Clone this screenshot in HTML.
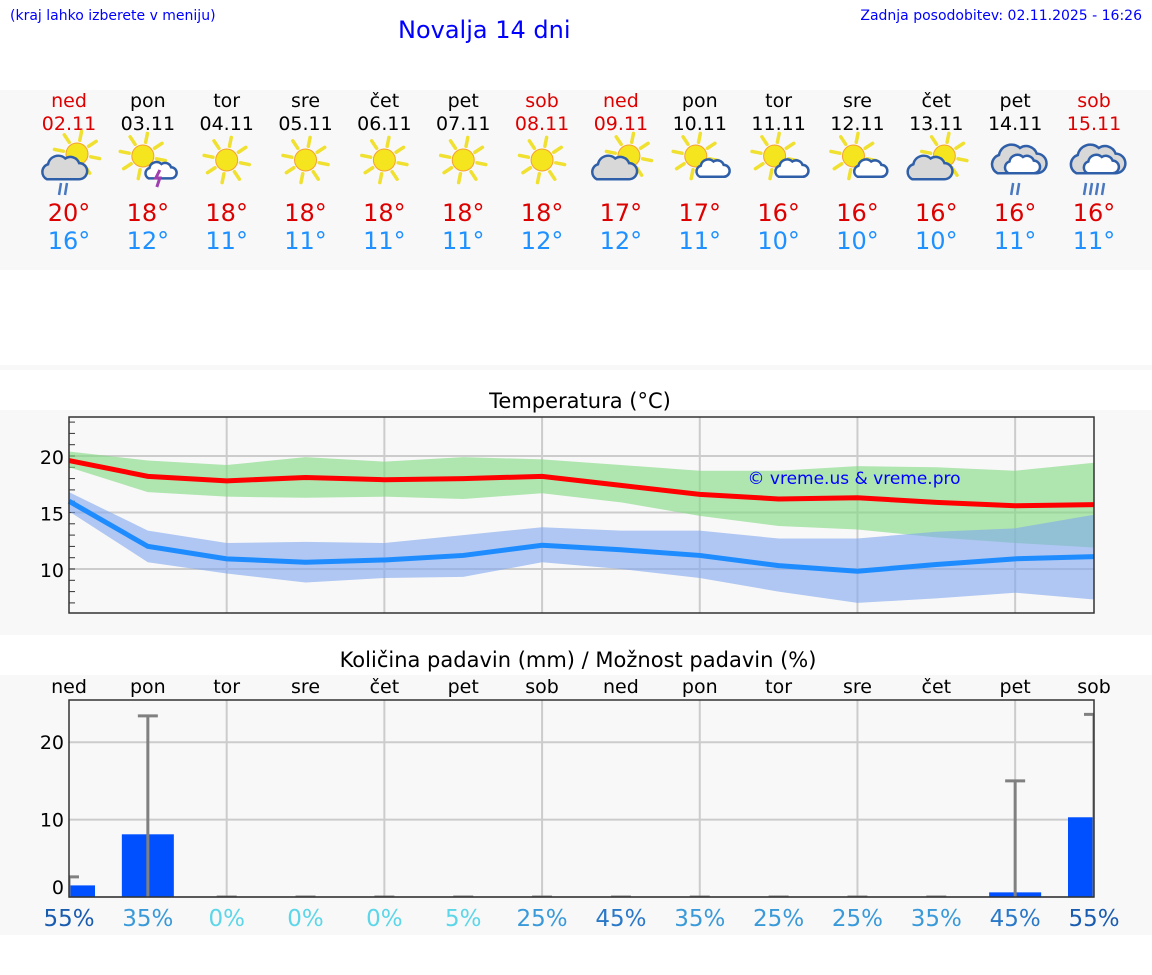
<!DOCTYPE html>
<html><head><meta charset="utf-8"><style>
body{margin:0;width:1152px;height:975px;background:#fff;font-family:"DejaVu Sans","Liberation Sans",sans-serif;overflow:hidden;position:relative}
.a{position:absolute}
</style></head><body>
<div class="a" style="left:10px;top:8px;font-size:14px;color:#00f">(kraj lahko izberete v meniju)</div>
<div class="a" style="left:398px;top:16px;font-size:24px;color:#00f">Novalja 14 dni</div>
<div class="a" style="right:10px;top:8px;font-size:14px;color:#00f">Zadnja posodobitev: 02.11.2025 - 16:26</div>
<div class="a" style="left:0;top:90px;width:1152px;height:180px;background:#f8f8f8"></div>
<div class="a" style="left:0;top:365px;width:1152px;height:5px;background:#f8f8f8"></div>
<div class="a" style="left:0;top:410px;width:1152px;height:225px;background:#f8f8f8"></div>
<div class="a" style="left:0;top:675px;width:1152px;height:260px;background:#f8f8f8"></div>
<svg id="s" class="a" style="left:0;top:0" width="1152" height="975"></svg>
<script>
const days=["ned","pon","tor","sre","čet","pet","sob","ned","pon","tor","sre","čet","pet","sob"];
const dates=["02.11","03.11","04.11","05.11","06.11","07.11","08.11","09.11","10.11","11.11","12.11","13.11","14.11","15.11"];
const weekend=[1,0,0,0,0,0,1,1,0,0,0,0,0,1];
const icons=["sun-cloud-rain","sun-storm","sun","sun","sun","sun","sun","cloud-sun","sun-small-cloud","sun-small-cloud","sun-small-cloud","cloud-sun","cloud-rain","cloud-rain-heavy"];
const tmaxLabel=[20,18,18,18,18,18,18,17,17,16,16,16,16,16];
const tminLabel=[16,12,11,11,11,11,12,12,11,10,10,10,11,11];
const tmax=[19.6,18.2,17.8,18.1,17.9,18.0,18.2,17.4,16.6,16.2,16.3,15.9,15.6,15.7];
const tmaxHi=[20.4,19.6,19.2,19.9,19.5,19.9,19.7,19.2,18.7,18.7,19.1,19.0,18.7,19.4];
const tmaxLo=[19.0,16.8,16.4,16.3,16.4,16.2,16.7,15.9,14.7,13.8,13.5,12.8,12.3,11.9];
const tmin=[16.0,12.0,10.9,10.6,10.8,11.2,12.1,11.7,11.2,10.3,9.8,10.4,10.9,11.1];
const tminHi=[16.8,13.4,12.3,12.4,12.3,13.0,13.7,13.4,13.4,12.7,12.7,13.3,13.6,14.8];
const tminLo=[15.1,10.6,9.6,8.8,9.2,9.3,10.6,10.0,9.2,8.0,7.0,7.4,7.9,7.3];
const tempTicks=[10,15,20];
const precip=[1.5,8.1,0,0,0,0,0,0,0,0,0,0,0.6,10.3];
const precipMax=[2.6,23.4,0,0,0,0,0,0,0,0,0,0,15.0,23.6];
const prob=[55,35,0,0,0,5,25,45,35,25,25,35,45,55];
const precipTicks=[0,10,20];
const NS="http://www.w3.org/2000/svg",S=document.getElementById('s');
function el(t,a,p){const e=document.createElementNS(NS,t);for(const k in a)e.setAttribute(k,a[k]);(p||S).appendChild(e);return e}
const X=i=>69+i*(1094-69)/13;
const TY=v=>456+(20-v)*11.3;
const PY=v=>897-v*7.74;
days.forEach((d,i)=>{
 const c=weekend[i]?"#d00":"#000";
 let t=el('text',{x:X(i),y:107,'text-anchor':'middle','font-size':19,fill:c});t.textContent=d;
 
 t=el('text',{x:X(i),y:130,'text-anchor':'middle','font-size':19,fill:c});t.textContent=dates[i];
 
 t=el('text',{x:X(i),y:221,'text-anchor':'middle','font-size':24,fill:"#d00"});t.textContent=tmaxLabel[i]+"°";
 
 t=el('text',{x:X(i),y:249,'text-anchor':'middle','font-size':24,fill:"#1e90ff"});t.textContent=tminLabel[i]+"°";
 
 drawIcon(icons[i],X(i),166);
});
function sun(g,cx,cy,r){
 for(let k=0;k<8;k++){const a=k*Math.PI/4+0.2;el('line',{x1:cx+Math.cos(a)*(r+3),y1:cy+Math.sin(a)*(r+3),x2:cx+Math.cos(a)*(r+12),y2:cy+Math.sin(a)*(r+12),stroke:'#f0e030','stroke-width':3.5,'stroke-linecap':'round'},g)}
 el('circle',{cx,cy,r,fill:'#f5e51f',stroke:'#f5a030','stroke-width':1},g);
}
function cl(g,cx,cy,s,fill){
 const p=`M${cx-14*s},${cy+8*s} A${7*s} ${7*s} 0 0 1 ${cx-13*s},${cy-5*s} A${9*s} ${9*s} 0 0 1 ${cx+2*s},${cy-10*s} A${8*s} ${8*s} 0 0 1 ${cx+14*s},${cy-6*s} A${7*s} ${7*s} 0 0 1 ${cx+14*s},${cy+8*s} Z`;
 el('path',{d:p,fill,stroke:'#2f5fa8','stroke-width':2.5},g);
}
function rain(g,cx,cy,n){for(let k=0;k<n;k++)el('line',{x1:cx+k*6+2,y1:cy,x2:cx+k*6,y2:cy+12,stroke:'#4a78c0','stroke-width':2.5},g)}
function drawIcon(type,cx,cy){
 const g=el('g',{});
 
 
 if(type==='sun'){sun(g,cx,cy-6,11)}
 else if(type==='sun-cloud-rain'){sun(g,cx+8,cy-12,11);cl(g,cx-6,cy+4,1.15,'#d8d8d8');rain(g,cx-10,cy+17,2)}
 else if(type==='sun-storm'){sun(g,cx-5,cy-10,11);cl(g,cx+12,cy+6,0.8,'#fff');el('path',{d:`M${cx+12},${cy+4} l-4,8 h4 l-3,9`,stroke:'#a040b0','stroke-width':3,fill:'none'},g)}
 else if(type==='cloud-sun'){sun(g,cx+8,cy-10,11);cl(g,cx-8,cy+4,1.15,'#d8d8d8')}
 else if(type==='sun-small-cloud'){sun(g,cx-4,cy-10,11);cl(g,cx+12,cy+4,0.85,'#fff')}
 else if(type==='cloud-rain'){cl(g,cx+2,cy-4,1.4,'#d8d8d8');cl(g,cx+6,cy,0.9,'#fff');rain(g,cx-4,cy+17,2)}
 else {cl(g,cx+2,cy-4,1.4,'#d8d8d8');cl(g,cx+6,cy,0.9,'#fff');rain(g,cx-10,cy+17,4)}
}
let t=el('text',{x:580,y:408,'text-anchor':'middle','font-size':21,fill:'#000'});t.textContent="Temperatura (°C)";

el('rect',{x:69,y:417,width:1025,height:196,fill:'#f8f8f8'});
tempTicks.forEach(v=>{el('line',{x1:69,x2:1094,y1:TY(v),y2:TY(v),stroke:'#ccc','stroke-width':2});
 const l=el('text',{x:64,y:TY(v)+8,'text-anchor':'end','font-size':19});l.textContent=v;
 });
for(let v=7;v<=23;v++)el('line',{x1:69,x2:75,y1:TY(v),y2:TY(v),stroke:'#333'});
for(let i=2;i<13;i+=2)el('line',{x1:X(i),x2:X(i),y1:417,y2:613,stroke:'#ccc','stroke-width':2});
function band(hi,lo,fill,name){const pts=hi.map((v,i)=>X(i)+','+TY(v)).concat(lo.map((v,i)=>[i,v]).reverse().map(([i,v])=>X(i)+','+TY(v)));
 const p=el('polygon',{points:pts.join(' '),fill,'fill-opacity':0.6});}
function line(vals,stroke,name){const p=el('polyline',{points:vals.map((v,i)=>X(i)+','+TY(v)).join(' '),fill:'none',stroke,'stroke-width':5});}
band(tmaxHi,tmaxLo,'#7ed87e','max-temp-range');
band(tminHi,tminLo,'#7ea6ee','min-temp-range');
line(tmax,'#ff0000','max-temp-line');
line(tmin,'#1e8cff','min-temp-line');
el('rect',{x:69,y:417,width:1025,height:196,fill:'none',stroke:'#333','stroke-width':1.5});
t=el('text',{x:854,y:484,'text-anchor':'middle','font-size':17,fill:'#00f'});t.textContent="© vreme.us & vreme.pro";

t=el('text',{x:578,y:667,'text-anchor':'middle','font-size':21});t.textContent="Količina padavin (mm) / Možnost padavin (%)";

precipTicks.forEach(v=>{el('line',{x1:69,x2:1094,y1:PY(v),y2:PY(v),stroke:'#ccc','stroke-width':2});
 const l=el('text',{x:64,y:PY(v)+(v===0?-3:7),'text-anchor':'end','font-size':19});l.textContent=v;
 });
for(let i=2;i<13;i+=2)el('line',{x1:X(i),x2:X(i),y1:700,y2:897,stroke:'#ccc','stroke-width':2});
const clip=el('clipPath',{id:'pc'});el('rect',{x:69,y:700,width:1025,height:197},clip);
const pg=el('g',{'clip-path':'url(#pc)'});
const pcol=p=>p>=55?'#1a5cb0':p>=45?'#2a78c8':p>=25?'#3a9ad9':'#5cd6e8';
days.forEach((d,i)=>{
 let l=el('text',{x:X(i),y:693,'text-anchor':'middle','font-size':19});l.textContent=d;
 
 const b=el('rect',{x:X(i)-26,y:PY(precip[i]),width:52,height:PY(0)-PY(precip[i]),fill:'#0050ff'},pg);
 
 const e=el('g',{},pg);
 
 el('line',{x1:X(i),x2:X(i),y1:PY(precipMax[i]),y2:PY(0),stroke:'#808080','stroke-width':3},e);
 el('line',{x1:X(i)-10,x2:X(i)+10,y1:PY(precipMax[i]),y2:PY(precipMax[i]),stroke:'#808080','stroke-width':3},e);
 l=el('text',{x:X(i),y:926,'text-anchor':'middle','font-size':23,fill:pcol(prob[i])});l.textContent=prob[i]+"%";
 
});
el('rect',{x:69,y:700,width:1025,height:197,fill:'none',stroke:'#333','stroke-width':1.5});
</script>
</body></html>
